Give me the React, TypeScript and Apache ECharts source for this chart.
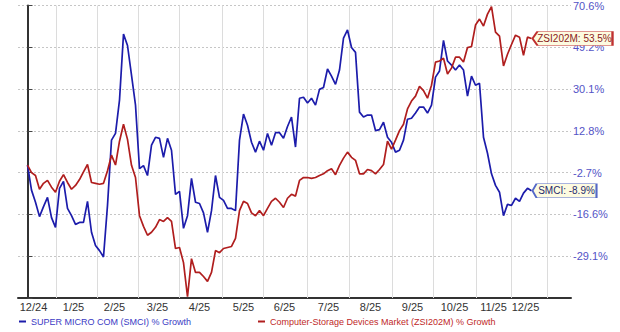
import React, { useEffect, useRef } from "react";
import * as echarts from "echarts";

// X axis: trading-day index (2 trading days between stored points)
const DAY_STEP = 2;
const X_MIN = -4.75;
const X_MAX = 271.75;
const monthLabels = ["12/24", "1/25", "2/25", "3/25", "4/25", "5/25", "6/25", "7/25", "8/25", "9/25", "10/25", "11/25", "12/25"];
const monthLabelDays = [3, 23, 43.5, 65, 86, 108, 128.5, 150.5, 171.5, 192.5, 213.5, 233, 249];
const monthGridDays = [14.5, 35, 55.5, 76, 97.5, 118, 140, 161, 182.5, 203, 224.5, 242, 260];

// Y axis tick labels (bottom to top), % growth on a shifted log scale
const yTickLabels = [-29.1, -16.6, -2.7, 12.8, 30.1, 49.2, 70.6];
const LOG_SHIFT = 139.4;

const smciGrowth = [
  0, -8.7, -12.7, -17.3, -14.1, -11.1, -17.6, -20.6, -8.1, -5.7,
  -14.7, -17.0, -19.7, -19.1, -19.1, -12.4, -22.1, -26.0, -27.5, -29.3,
  -13.7, 9.2, 11.8, 25.3, 55.7, 50.1, 36.2, 23.2, -1.3, -0.2,
  -3.7, 7.3, 10.3, 9.9, 2.8, 9.9, 5.4, -10.1, -9.1, -20.9,
  -17.0, -4.7, -12.7, -13.1, -16.1, -22.1, -15.4, -3.7, -11.1, -12.1,
  -14.7, -14.7, -15.4, 9.2, 19.5, 15.0, 8.4, 4.7, 8.8, 5.4,
  11.8, 7.3, 12.1, 12.1, 9.9, 14.5, 18.3, 6.6, 26.1, 26.5,
  24.1, 26.1, 23.2, 29.9, 30.7, 39.0, 35.8, 32.1, 38.5, 53.7,
  57.8, 49.1, 46.8, 20.3, 18.3, 19.1, 19.1, 12.9, 13.3, 16.2,
  10.3, 8.4, 4.7, 5.4, 9.2, 17.4, 17.8, 19.9, 22.4, 22.4,
  19.9, 23.2, 35.3, 38.1, 52.6, 42.7, 40.8, 38.5, 40.8, 38.5,
  27.0, 35.8, 31.7, 32.6, 10.3, 4.3, -3.1, -7.1, -9.4, -17.0,
  -13.4, -13.7, -11.4, -12.4, -9.7, -8.1, -8.9,
];

const zsiGrowth = [
  0, -2.7, -3.7, -8.4, -6.4, -5.4, -7.7, -9.4, -5.7, -3.4,
  -6.1, -8.4, -7.1, -5.1, -2.4, 0.2, -6.1, -6.4, -6.7, -6.4,
  -2.0, 3.6, 0.0, 8.8, 15.4, 9.5, -0.1, -4.4, -17.0, -20.3,
  -23.0, -22.1, -20.6, -18.2, -18.8, -17.6, -18.8, -26.9, -26.6, -30.9,
  -40.0, -29.8, -33.6, -33.6, -34.7, -36.0, -33.6, -27.5, -28.1, -26.9,
  -26.6, -26.3, -23.9, -15.4, -12.4, -13.1, -16.1, -17.0, -15.4, -17.0,
  -14.7, -12.4, -11.4, -12.7, -14.4, -11.4, -10.1, -10.7, -5.4, -4.4,
  -4.4, -4.7, -4.4, -3.7, -3.1, -2.0, -1.3, -3.4, -0.1, 2.5,
  4.7, 2.8, 1.7, -3.1, -3.1, -1.6, -2.0, -3.1, -1.6, 0.2,
  8.8, 5.8, 9.2, 12.9, 15.4, 21.6, 24.9, 27.0, 31.2, 29.4,
  26.1, 31.7, 42.2, 42.7, 44.0, 36.7, 39.4, 44.5, 44.5, 42.2,
  49.1, 49.6, 60.3, 63.4, 59.8, 66.0, 70.0, 56.7, 54.7, 40.4,
  45.9, 50.6, 55.2, 54.2, 45.4, 54.2, 53.5,
];

const SMCI_NAME = "SUPER MICRO COM (SMCI) % Growth";
const ZSI_NAME = "Computer-Storage Devices Market (ZSI202M) % Growth";
const BLUE = "#1c1cab";
const RED = "#b01e1e";
const GRID_COLOR = "#c6c6c6";
const VGRID_FILL = "#dcdcdc";
const FONT = "'Liberation Sans', Arial, sans-serif";

const Y_MIN = -1;
const Y_MAX = yTickLabels.length - 1;
const logLo = Math.log(yTickLabels[0] + LOG_SHIFT);
const logHi = Math.log(yTickLabels[Y_MAX] + LOG_SHIFT);
const logStep = (logHi - logLo) / Y_MAX;
const toAxis = (v: number) => (Math.log(v + LOG_SHIFT) - logLo) / logStep;

const toPoints = (vals: number[]) => vals.map((v, i) => [i * DAY_STEP, toAxis(v)]);

const endBox = (vals: number[], label: string, border: string, textColor: string, w: number) => {
  const last = vals.length - 1;
  return {
    silent: true,
    symbol: "path://M0,7L5,0L80,0L80,14L5,14Z",
    symbolSize: [w, 14],
    symbolOffset: [w / 2 + 1, 0],
    itemStyle: { color: "#fdfbe0", borderColor: border, borderWidth: 1 },
    label: {
      show: true,
      position: "inside",
      formatter: `${label}: ${vals[last].toFixed(1)}%`,
      color: textColor,
      fontSize: 10,
      fontFamily: FONT,
      offset: [2, 0],
    },
    data: [{ coord: [last * DAY_STEP, toAxis(vals[last])] }],
    z: 10,
  };
};

export default function App() {
  const ref = useRef<HTMLDivElement>(null);
  useEffect(() => {
    if (!ref.current) return;
    const chart = echarts.init(ref.current, undefined, { renderer: "svg" });
    chart.setOption({
      animation: false,
      backgroundColor: "#ffffff",
      grid: { left: 18, right: 49, top: 5, bottom: 34 },
      legend: [
        {
          left: 14,
          top: 312,
          icon: "rect",
          itemWidth: 7,
          itemHeight: 2,
          itemGap: 6,
          data: [SMCI_NAME],
          textStyle: { color: "#3a3ac4", fontSize: 9, fontFamily: FONT },
          selectedMode: false,
        },
        {
          left: 253,
          top: 312,
          icon: "rect",
          itemWidth: 7,
          itemHeight: 2,
          data: [ZSI_NAME],
          textStyle: { color: "#c02828", fontSize: 9, fontFamily: FONT },
          selectedMode: false,
        },
      ],
      xAxis: {
        type: "value",
        min: X_MIN,
        max: X_MAX,
        axisLine: { show: true, onZero: false, lineStyle: { color: "#333", width: 2 } },
        axisTick: { show: false },
        splitLine: { show: false },
        axisLabel: {
          customValues: monthLabelDays,
          formatter: (v: number) => {
            const k = monthLabelDays.indexOf(v);
            return k >= 0 ? monthLabels[k] : "";
          },
          color: "#333",
          fontSize: 11,
          fontFamily: FONT,
          margin: 3,
        },
      },
      yAxis: {
        type: "value",
        position: "right",
        min: Y_MIN,
        max: Y_MAX,
        interval: 1,
        axisLine: { show: true, lineStyle: { color: "#333", width: 2 } },
        axisTick: { show: true, length: 5, lineStyle: { color: "#444" } },
        splitLine: { show: true, lineStyle: { color: GRID_COLOR, type: [2, 2], width: 1 } },
        axisLabel: {
          formatter: (v: number) => {
            const k = Math.round(v);
            return k >= 0 && k < yTickLabels.length ? `${yTickLabels[k]}%` : "";
          },
          color: "#5353c6",
          fontSize: 11,
          fontFamily: FONT,
          margin: 2,
        },
      },
      series: [
        {
          type: "custom",
          silent: true,
          z: 1,
          data: monthGridDays.map((d) => [d]),
          encode: { x: 0 },
          renderItem: (_params: any, api: any) => {
            const d = api.value(0);
            const top = api.coord([d, Y_MAX]);
            const bot = api.coord([d, Y_MIN]);
            return {
              type: "rect",
              shape: { x: Math.floor(top[0]), y: top[1], width: 1, height: bot[1] - top[1] },
              style: { fill: VGRID_FILL },
            };
          },
        },
        {
          name: SMCI_NAME,
          type: "line",
          data: toPoints(smciGrowth),
          showSymbol: false,
          color: BLUE,
          lineStyle: { color: BLUE, width: 1.7 },
          z: 3,
          markPoint: endBox(smciGrowth, "SMCI", "#5468c8", "#1f2a6e", 64),
        },
        {
          name: ZSI_NAME,
          type: "line",
          data: toPoints(zsiGrowth),
          showSymbol: false,
          color: RED,
          lineStyle: { color: RED, width: 1.7 },
          z: 4,
          markPoint: endBox(zsiGrowth, "ZSI202M", "#c03030", "#8a1c1c", 80),
        },
      ],
    });
    return () => chart.dispose();
  }, []);
  return (
    <div
      ref={ref}
      style={{ position: "fixed", left: 0, top: 0, width: 620, height: 332, background: "#fff" }}
    />
  );
}
